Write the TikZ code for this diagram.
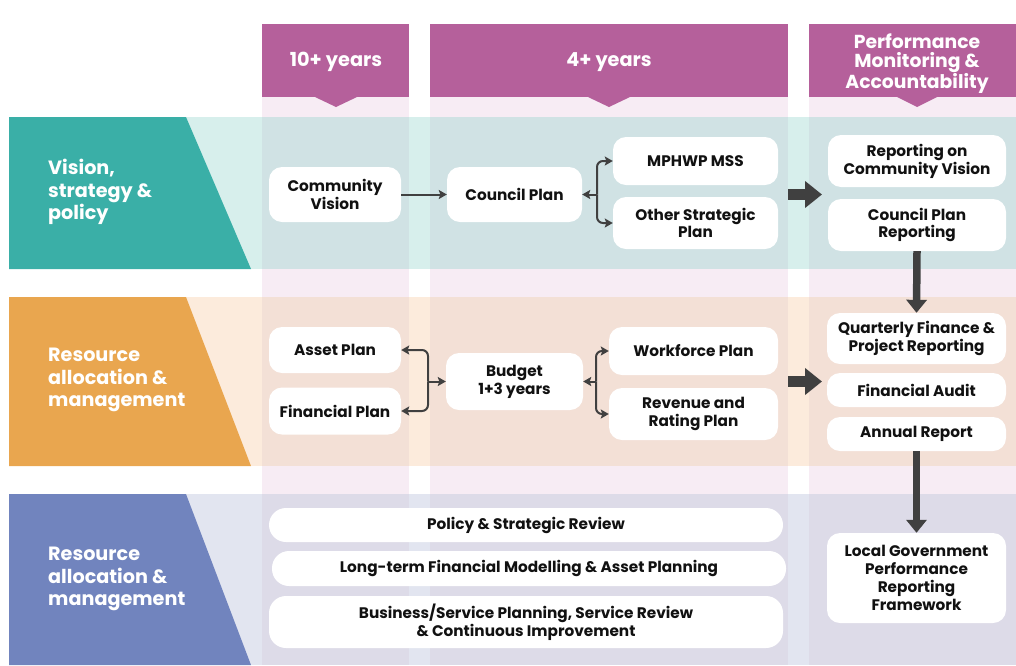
\documentclass[tikz,border=0pt]{standalone}
\usepackage{fontspec}
\setmainfont{Poppins}
\usetikzlibrary{arrows.meta}

\definecolor{headpurple}{HTML}{B5609B}
\definecolor{colpink}{HTML}{F7ECF4}
\definecolor{tealD}{HTML}{3AAFA7}
\definecolor{tealL}{HTML}{D7EFEC}
\definecolor{tealM}{HTML}{D0E2E4}
\definecolor{orD}{HTML}{E9A64F}
\definecolor{orL}{HTML}{FCEBDC}
\definecolor{orM}{HTML}{F3E0D6}
\definecolor{blD}{HTML}{7184BE}
\definecolor{blL}{HTML}{E2E5F0}
\definecolor{blM}{HTML}{DDDBE8}
\definecolor{ink}{HTML}{111111}
\definecolor{arrowgray}{HTML}{404040}

\newcommand\nodefnt{\fontsize{15.3}{17.8}\selectfont\bfseries}
\newcommand\bandfnt{\fontsize{19.2}{22.5}\selectfont\bfseries}
\newcommand\headfnt{\fontsize{19.3}{19}\selectfont\bfseries}
\newcommand\headsmfnt{\fontsize{18.8}{19}\selectfont\bfseries}

\begin{document}
\begin{tikzpicture}[x=1pt,y=-1pt,
  box/.style={fill=white, rounded corners=13pt, align=center, inner sep=0pt,
    font=\nodefnt, text=ink},
  sz/.style 2 args={minimum width=#1, minimum height=#2},
  bandtxt/.style={anchor=west, align=left, font=\bandfnt, text=white, inner sep=0pt},
  headtxt/.style={align=center, font=\headfnt, text=white, inner sep=0pt},
  conn/.style={draw=arrowgray, line width=2pt, -{Stealth[length=8pt,width=9pt,inset=1.5pt]}},
  bigarrow/.style={draw=arrowgray, line width=11pt, -{Triangle[length=17pt,width=26pt]}},
  vbigarrow/.style={draw=arrowgray, line width=7.5pt, -{Triangle[length=13pt,width=20pt]}}
]
\useasboundingbox (0,0) rectangle (1016,665);

% column shading
\fill[colpink] (262,97) rectangle (409,665);
\fill[colpink] (430,97) rectangle (788,665);
\fill[colpink] (809,97) rectangle (1016,665);

% horizontal bands with their column overlays
\foreach \tp/\bt/\lt/\mx in {117/269/tealL/tealM, 297/466/orL/orM, 494/665/blL/blM}{
  \fill[\lt] (9,\tp) rectangle (1016,\bt);
  \fill[\mx] (262,\tp) rectangle (409,\bt);
  \fill[\mx] (430,\tp) rectangle (788,\bt);
  \fill[\mx] (809,\tp) rectangle (1016,\bt);
}

% band label shapes
\fill[tealD] (9,117) -- (186,117) -- (251,269) -- (9,269) -- cycle;
\fill[orD] (9,297) -- (186,297) -- (251,466) -- (9,466) -- cycle;
\fill[blD] (9,494) -- (186,494) -- (251,665) -- (9,665) -- cycle;

% column headers
\fill[headpurple] (262,24) rectangle (409,97);
\fill[headpurple] (315,97) -- (357,97) -- (336,107) -- cycle;
\fill[headpurple] (430,24) rectangle (788,97);
\fill[headpurple] (588,97) -- (630,97) -- (609,107) -- cycle;
\fill[headpurple] (809,24) rectangle (1016,97);
\fill[headpurple] (897,97) -- (937,97) -- (917,107) -- cycle;

\node[headtxt] (h1) at (336,62) {10+ years};
\node[headtxt] (h2) at (609,62) {4+ years};
\node[headtxt, font=\headsmfnt] (h3) at (917,63.5) {Performance\\Monitoring \&\\Accountability};

% band labels
\node[bandtxt] (l1) at (48,192) {Vision,\\strategy \&\\policy};
\node[bandtxt] (l2) at (48,380) {Resource\\allocation \&\\management};
\node[bandtxt] (l3) at (48,579) {Resource\\allocation \&\\management};

% vision, strategy & policy
\node[box, sz={132pt}{55pt}] (cv) at (335,194.5) {Community\\Vision};
\node[box, sz={135pt}{55pt}] (cp) at (514.5,194.5) {Council Plan};
\node[box, sz={165pt}{48pt}] (mss) at (695.5,161) {MPHWP MSS};
\node[box, sz={165pt}{52pt}] (osp) at (695.5,223) {Other Strategic\\Plan};
\node[box, sz={178pt}{52pt}] (rcv) at (917,161) {Reporting on\\Community Vision};
\node[box, sz={178pt}{52pt}] (cpr) at (917,225) {Council Plan\\Reporting};

% resource allocation & management
\node[box, sz={132pt}{46pt}] (ap) at (335,350) {Asset Plan};
\node[box, sz={132pt}{47pt}] (fp) at (335,411) {Financial Plan};
\node[box, sz={137pt}{57pt}] (bud) at (514.5,381.5) {Budget\\1+3 years};
\node[box, sz={169pt}{48pt}] (wf) at (693.5,351) {Workforce Plan};
\node[box, sz={169pt}{52pt}] (rr) at (693.5,414) {Revenue and\\Rating Plan};
\node[box, sz={179pt}{51pt}] (qf) at (916.5,338.5) {Quarterly Finance \&\\Project Reporting};
\node[box, sz={179pt}{34pt}] (fa) at (916.5,390) {Financial Audit};
\node[box, sz={179pt}{34pt}] (ar) at (916.5,434) {Annual Report};

% review processes
\node[box, sz={514pt}{34pt}, rounded corners=17pt] (psr) at (526,525) {Policy \& Strategic Review};
\node[box, sz={514pt}{35pt}, rounded corners=17pt] (lt) at (529,568.5) {Long-term Financial Modelling \& Asset Planning};
\node[box, sz={514pt}{52pt}, rounded corners=17pt] (bsp) at (526,622) {Business/Service Planning, Service Review\\\& Continuous Improvement};
\node[box, sz={179pt}{90pt}] (lg) at (916.5,578) {Local Government\\Performance\\Reporting\\Framework};

% connectors
\draw[conn] (cv) -- (cp);
\coordinate (k1) at (597,194.5);
\draw[conn] (k1) -- (cp.east);
\draw[conn, rounded corners=6pt] (k1) |- (mss.west);
\draw[conn, rounded corners=6pt] (k1) |- (osp.west);

\coordinate (k2) at (428,381.5);
\draw[conn] (k2) -- (bud.west);
\draw[conn, rounded corners=6pt] (k2) |- (ap.east);
\draw[conn, rounded corners=6pt] (k2) |- (fp.east);

\coordinate (k3) at (596,381.5);
\draw[conn] (k3) -- (bud.east);
\draw[conn, rounded corners=6pt] (k3) |- (wf.west);
\draw[conn, rounded corners=6pt] (k3) |- (rr.west);

% flows into the monitoring column
\coordinate (b1a) at (788,194.5);
\coordinate (b1b) at (822,194.5);
\draw[bigarrow] (b1a) -- (b1b);
\coordinate (b2a) at (788,381.5);
\coordinate (b2b) at (822,381.5);
\draw[bigarrow] (b2a) -- (b2b);

\draw[vbigarrow] (cpr.south) -- (qf.north);
\draw[vbigarrow] (ar.south) -- (lg.north);
\end{tikzpicture}
\end{document}
